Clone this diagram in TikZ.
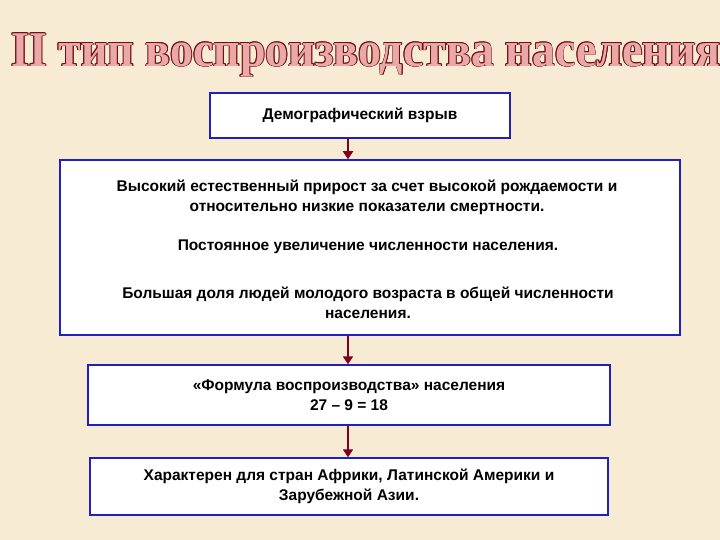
\documentclass[tikz,border=0pt]{standalone}
\usetikzlibrary{arrows.meta}
\usepackage{fontspec}
\setmainfont{Liberation Sans}
\newfontfamily\ttl{Liberation Serif}
\definecolor{bg}{HTML}{F7EBD3}
\definecolor{bx}{HTML}{2020C0}
\definecolor{ar}{HTML}{800020}
\definecolor{tp}{HTML}{EBA8A8}
\definecolor{to}{HTML}{701010}
\begin{document}
\begin{tikzpicture}[x=1pt,y=-1pt,
  boxst/.style={draw=bx,line width=1.5pt,fill=white,inner sep=0pt},
  txt/.style={font=\bfseries\fontsize{15.5}{20}\selectfont,align=center},
  ttlst/.style={font=\ttl\bfseries\fontsize{50}{50}\selectfont,xscale=0.92},
  arr/.style={draw=ar,line width=2.5pt,-{Triangle[length=8pt,width=10pt]}}]
\fill[bg] (0,0) rectangle (720,540);
\useasboundingbox (0,0) rectangle (720,540);
\foreach \dx/\dy in {-0.9/0,0.9/0,0/-0.9,0/0.9,-0.7/-0.7,0.7/0.7,0.7/-0.7,-0.7/0.7}
  \node[text=to,ttlst] at (366+\dx,55+\dy) {II тип воспроизводства населения};
\node[text=tp,ttlst] (title) at (366,55) {II тип воспроизводства населения};
\node[boxst,minimum width=300,minimum height=45] (b1) at (360,115.5) {};
\node[txt] at (b1) {Демографический взрыв};
\node[boxst,minimum width=620,minimum height=175] (b2) at (370,247.5) {};
\node[txt] at (367,197) {Высокий естественный прирост за счет высокой рождаемости и\\относительно низкие показатели смертности.};
\node[txt] at (368,247) {Постоянное увеличение численности населения.};
\node[txt] at (368,303) {Большая доля людей молодого возраста в общей численности\\населения.};
\node[boxst,minimum width=522,minimum height=60] (b3) at (349,395) {};
\node[txt] at (b3) {«Формула воспроизводства» населения\\27 – 9 = 18};
\node[boxst,minimum width=518,minimum height=57] (b4) at (349,486.5) {};
\node[txt] at (b4) {Характерен для стран Африки, Латинской Америки и\\Зарубежной Азии.};
\draw[arr] (b1.south -| 348,0) -- (b2.north -| 348,0);
\draw[arr] (b2.south -| 348,0) -- (b3.north -| 348,0);
\draw[arr] (b3.south -| 348,0) -- (b4.north -| 348,0);
\end{tikzpicture}
\end{document}
